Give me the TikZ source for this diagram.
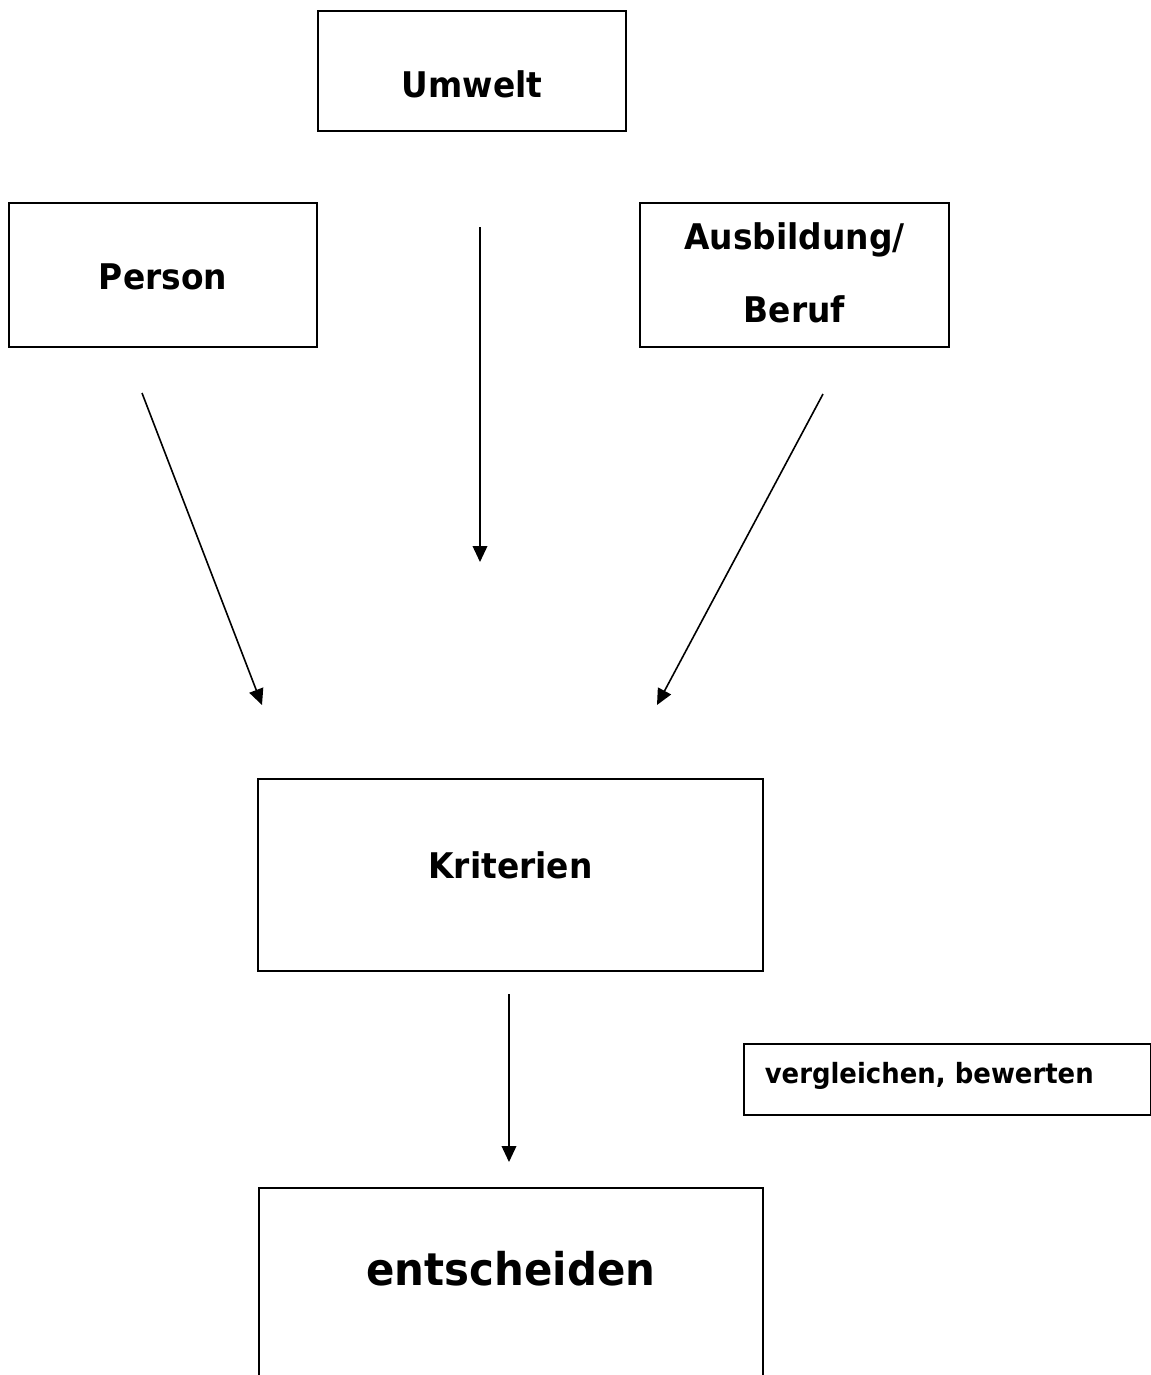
\documentclass[tikz,border=0pt]{standalone}
\usepackage{fontspec}
\setmainfont[FakeStretch=0.93]{DejaVu Sans}
\usetikzlibrary{arrows.meta}

\tikzset{
  kasten/.style={shape=rectangle, draw=black, line width=1.2pt, inner sep=0pt, anchor=north,
                 font=\bfseries\fontsize{26.5}{54.75}\selectfont},
  pfeil/.style={-{Triangle[length=12pt,width=11pt]}, line width=1.2pt, draw=black}
}

\begin{document}
\begin{tikzpicture}[x=0.75pt, y=-0.75pt]
\useasboundingbox (0,0) rectangle (1151,1375);
\clip (0,0) rectangle (1151,1375);
\node[kasten, minimum width=231pt, text height=64.9pt, text depth=25.1pt] (umwelt) at (472,10) {Umwelt};
\node[kasten, minimum width=231pt, text height=65.25pt, text depth=42.75pt] (person) at (163,202) {Person};
\node[kasten, minimum width=231.75pt, text height=90pt, text depth=18pt, align=center] (ausbildung) at (794.5,202) {Ausbildung/\\Beruf};
\node[kasten, minimum width=378.75pt, text height=75pt, text depth=69pt] (kriterien) at (510.5,778) {Kriterien};
\node[kasten, minimum width=378pt, text height=73.5pt, text depth=112.5pt, font=\bfseries\fontsize{33.8}{40}\selectfont] (entscheiden) at (511,1187) {entscheiden};
\node[kasten, anchor=north west, inner xsep=15.75pt, text width=273.75pt, align=left, text height=30pt, text depth=23.25pt, font=\bfseries\fontsize{20.9}{25}\selectfont] (vergleichen) at (743,1043) {vergleichen, bewerten};
\coordinate (p1) at (142,393);
\coordinate (p2) at (262,705);
\coordinate (u1) at (480,227);
\coordinate (u2) at (480,562);
\coordinate (a1) at (823,394);
\coordinate (a2) at (657,705);
\coordinate (k1) at (509,994);
\coordinate (k2) at (509,1162);
\draw [pfeil] (p1) -- (p2);
\draw [pfeil] (u1) -- (u2);
\draw [pfeil] (a1) -- (a2);
\draw [pfeil] (k1) -- (k2);
\end{tikzpicture}
\end{document}
